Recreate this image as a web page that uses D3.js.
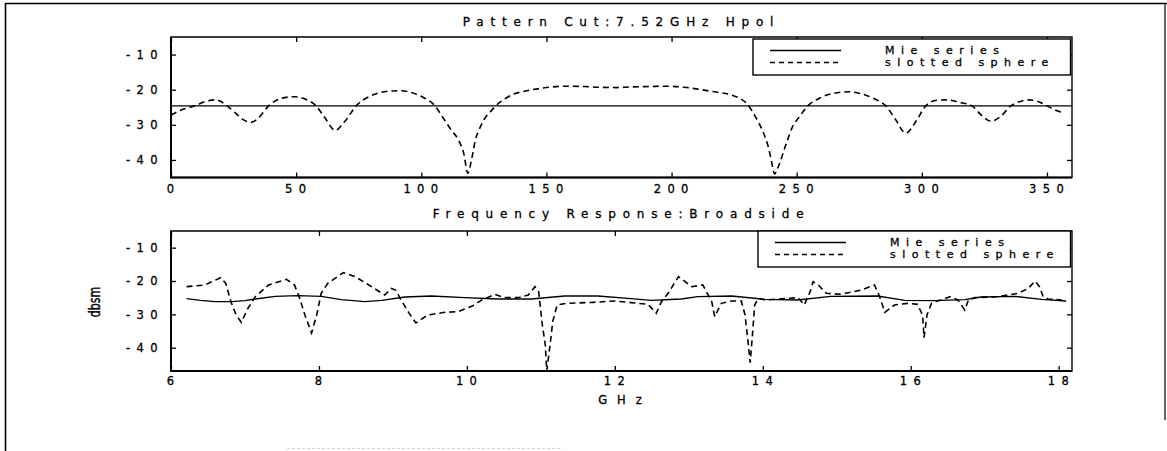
<!DOCTYPE html>
<html>
<head>
<meta charset="utf-8">
<script src="https://cdn.jsdelivr.net/npm/d3@7"></script>
<style>
  html, body { margin: 0; padding: 0; background: #fff; }
  svg { display: block; }
  text { font-family: "DejaVu Sans", "Liberation Sans", sans-serif; fill: #000; stroke: #000; stroke-width: 0.3px; }
</style>
</head>
<body>
<svg id="chart" width="1167" height="451"></svg>
<script>
// ---- Pattern cut at 7.52 GHz, horizontal polarisation (angle in degrees, RCS in dBsm)
const patternAngle = [0, 4, 9.6, 14, 18, 22.4, 26, 29, 32, 35, 39, 44, 49, 54, 58, 61.5, 65.6, 69.5, 74, 80,
  86, 91, 96, 101, 105.5, 108.5, 112, 115, 117, 118.6, 120.2, 121.6, 123.6, 125.6, 127.6, 129.6, 133.6, 137.6,
  141.6, 148, 158, 165, 171, 178, 184, 191, 198, 205, 211, 217, 224.3, 230.9, 233.6, 236.3, 238.3, 239.6, 241.2,
  242.3, 243.6, 244.9, 246.3, 248.3, 251, 254.3, 258.9, 264.3, 270.9, 276, 281, 285.6, 289.5, 293.6, 297.5,
  301.6, 306, 310, 315, 320, 324, 327.6, 331.5, 335.6, 340, 343, 347, 350, 354, 357];
const patternSlotted = [-27.2, -25.8, -24.6, -23.3, -22.9, -24.6, -26.8, -28.6, -29.3, -28.0, -24.6, -22.5, -22.0,
  -22.8, -24.6, -28.0, -31.6, -29.0, -24.6, -21.7, -20.5, -20.3, -20.8, -22.3, -24.6, -27.8, -31.5, -34.5, -38.2,
  -43.8, -39.5, -34.4, -30.6, -27.9, -26.3, -24.7, -22.5, -21.1, -20.4, -19.6, -19.0, -19.1, -19.3, -19.4, -19.2,
  -19.1, -19.0, -19.3, -19.9, -20.6, -21.6, -24.7, -27.8, -31.6, -35.4, -39.2, -44.0, -42.5, -40.1, -37.3, -34.4,
  -30.6, -27.8, -24.7, -22.5, -21.1, -20.6, -21.2, -22.6, -24.6, -28.5, -32.4, -29.2, -24.6, -23.0, -22.9, -23.6,
  -24.6, -27.4, -29.0, -27.6, -24.6, -23.2, -22.9, -23.5, -24.6, -26.0, -26.6];
const mieAngle = [0, 90, 180, 270, 360];
const patternMie = [-24.6, -24.6, -24.6, -24.6, -24.6];

// ---- Broadside frequency response (GHz, dBsm)
const freqMie = [6.21, 6.40, 6.59, 6.82, 7.00, 7.14, 7.41, 7.72, 8.03, 8.30, 8.62, 8.85, 9.16, 9.52, 9.97, 10.42,
  10.87, 11.32, 11.77, 12.22, 12.49, 12.90, 13.12, 13.58, 14.03, 14.47, 14.92, 15.55, 15.92, 16.30, 16.73, 16.95,
  17.41, 17.77, 18.10];
const responseMie = [-25.3, -25.8, -26.2, -26.2, -25.9, -25.4, -24.6, -24.4, -24.6, -25.6, -26.2, -25.8, -24.8,
  -24.5, -25.0, -25.4, -25.4, -24.5, -24.5, -25.3, -25.8, -25.4, -24.7, -24.5, -25.5, -25.7, -24.6, -24.5, -25.8,
  -25.9, -25.6, -24.8, -24.6, -25.5, -26.0];
const freqSlotted = [6.21, 6.46, 6.67, 6.74, 6.81, 6.88, 6.95, 7.04, 7.14, 7.32, 7.56, 7.67, 7.74, 7.81, 7.90,
  7.97, 8.03, 8.12, 8.33, 8.49, 8.71, 8.89, 8.98, 9.04, 9.11, 9.22, 9.31, 9.47, 9.70, 9.88, 10.08, 10.20, 10.38,
  10.51, 10.69, 10.83, 10.92, 10.97, 10.99, 11.02, 11.06, 11.08, 11.13, 11.16, 11.22, 11.34, 11.70, 12.00, 12.22,
  12.45, 12.56, 12.63, 12.72, 12.86, 13.04, 13.19, 13.31, 13.35, 13.44, 13.58, 13.71, 13.76, 13.80, 13.83, 13.86,
  13.89, 13.94, 14.03, 14.48, 14.56, 14.64, 14.68, 14.75, 14.86, 15.06, 15.33, 15.51, 15.58, 15.65, 15.78, 15.96,
  16.09, 16.16, 16.18, 16.22, 16.28, 16.53, 16.64, 16.73, 16.78, 16.87, 17.18, 17.45, 17.59, 17.68, 17.74, 17.79,
  17.86, 18.04];
const responseSlotted = [-21.7, -21.2, -19.0, -20.7, -26.2, -30.2, -32.4, -28.2, -24.7, -21.2, -19.5, -21.2, -25.2,
  -30.2, -35.6, -30.2, -23.7, -20.7, -17.5, -18.7, -21.7, -24.2, -22.2, -22.8, -25.7, -29.7, -32.6, -30.2, -29.4,
  -29.2, -27.4, -25.7, -24.0, -25.0, -25.0, -24.2, -21.7, -23.2, -27.2, -33.2, -39.2, -47.0, -38.2, -32.2, -27.2,
  -26.7, -26.4, -26.0, -26.5, -27.0, -29.7, -26.2, -23.7, -18.7, -21.7, -21.2, -26.2, -30.7, -26.7, -26.0, -26.0,
  -30.2, -38.2, -44.5, -36.2, -27.2, -25.2, -25.7, -25.0, -27.2, -23.2, -20.2, -21.2, -23.7, -24.0, -22.7, -21.2,
  -24.7, -29.4, -27.2, -26.7, -27.0, -30.2, -37.0, -30.2, -26.7, -24.7, -25.7, -28.7, -25.7, -25.0, -24.7, -23.7,
  -22.2, -20.0, -21.7, -24.7, -25.4, -25.7];

// ---- Tick labels
const angleTicks = [0, 50, 100, 150, 200, 250, 300, 350];
const freqTicks = [6, 8, 10, 12, 14, 16, 18];
const dbTicks = [-10, -20, -30, -40];
const seriesNames = ["Mie series", "slotted sphere"];

const svg = d3.select("#chart");
const SPACING = 6.4;   // wide letter spacing of the plotted text
const DASH = "6,4";

// page frame
const frame = svg.append("g").attr("stroke", "#000").attr("fill", "none");
frame.append("line").attr("x1", 5).attr("y1", 3.5).attr("x2", 1167).attr("y2", 3.5).attr("stroke-width", 1.6);
frame.append("line").attr("x1", 5.5).attr("y1", 3).attr("x2", 5.5).attr("y2", 451).attr("stroke-width", 1.6);
frame.append("line").attr("x1", 1165).attr("y1", 3).attr("x2", 1165).attr("y2", 420).attr("stroke-width", 1.2);
frame.append("line").attr("x1", 287).attr("y1", 448.5).attr("x2", 563).attr("y2", 448.5)
  .attr("stroke", "#d4d4d4").attr("stroke-width", 1).attr("stroke-dasharray", "3,2");

function panel(opt) {
  const { x, y, left, right, top, bottom } = opt;
  const g = svg.append("g");

  // tick marks pointing into the plot on all four sides, no domain paths
  const axB = d3.axisBottom(x).tickValues(opt.xTicks).tickSizeInner(-5).tickSizeOuter(0).tickPadding(opt.xPad);
  const axT = d3.axisTop(x).tickValues(opt.xTicks).tickSizeInner(-5).tickSizeOuter(0).tickFormat("");
  const axL = d3.axisLeft(y).tickValues(dbTicks).tickSizeInner(-5).tickSizeOuter(0).tickPadding(7);
  const axR = d3.axisRight(y).tickValues(dbTicks).tickSizeInner(-5).tickSizeOuter(0).tickFormat("");

  const gb = g.append("g").attr("transform", `translate(0,${bottom})`).call(axB);
  const gt = g.append("g").attr("transform", `translate(0,${top})`).call(axT);
  const gl = g.append("g").attr("transform", `translate(${left},0)`).call(axL);
  const gr = g.append("g").attr("transform", `translate(${right},0)`).call(axR);
  [gb, gt, gl, gr].forEach(a => {
    a.select(".domain").remove();
    a.selectAll(".tick line").attr("stroke", "#000").attr("stroke-width", 1.3);
    a.selectAll("text").attr("font-size", 11.5).attr("letter-spacing", SPACING)
      .attr("font-family", '"DejaVu Sans", sans-serif').attr("fill", "#000");
  });
  gb.selectAll("text").attr("dx", SPACING / 2 - 1);
  gl.selectAll("text").text(d => d3.format("d")(d).replace("−", "-"));

  // axes box
  g.append("path")
    .attr("d", `M${left},${top}H${right}V${bottom}H${left}Z`)
    .attr("fill", "none").attr("stroke", "#000").attr("stroke-width", 1.4);
  g.append("path")
    .attr("d", `M${left},${top}V${bottom}H${right}`)
    .attr("fill", "none").attr("stroke", "#000").attr("stroke-width", 2);

  // series
  const line = (xs, ys, curve) => d3.line().curve(curve)
    .x((d, i) => x(xs[i])).y((d, i) => y(ys[i]))(ys);
  g.append("path").attr("d", line(opt.mieX, opt.mieY, d3.curveLinear))
    .attr("fill", "none").attr("stroke", "#000").attr("stroke-width", 1.4);
  g.append("path").attr("d", line(opt.slotX, opt.slotY, opt.curve))
    .attr("fill", "none").attr("stroke", "#000").attr("stroke-width", 1.6)
    .attr("stroke-dasharray", DASH);

  // title
  g.append("text").attr("x", (left + right) / 2).attr("y", opt.titleY)
    .attr("text-anchor", "middle").attr("font-size", 12).attr("letter-spacing", 6.8)
    .text(opt.title);

  // legend
  const lg = g.append("g").attr("transform", `translate(${opt.legend[0]},${opt.legend[1]})`);
  const lw = right - opt.legend[0] - 1.5, lh = 36;
  lg.append("rect").attr("width", lw).attr("height", lh)
    .attr("fill", "#fff").attr("stroke", "#000").attr("stroke-width", 1.4);
  lg.append("line").attr("x1", 17).attr("x2", 88).attr("y1", 11.5).attr("y2", 11.5)
    .attr("stroke", "#000").attr("stroke-width", 1.3);
  lg.append("line").attr("x1", 17).attr("x2", 88).attr("y1", 23.5).attr("y2", 23.5)
    .attr("stroke", "#000").attr("stroke-width", 1.3).attr("stroke-dasharray", "5,4");
  seriesNames.forEach((s, i) => {
    lg.append("text").attr("x", 132).attr("y", 14.5 + i * 12)
      .attr("font-size", 11).attr("letter-spacing", 6.5).text(s);
  });
  return g;
}

// top panel: pattern cut
const xA = d3.scaleLinear().domain([0, 360]).range([171, 1072]);
const yA = d3.scaleLinear().domain([-45, -5]).range([177.5, 37]);
panel({
  x: xA, y: yA, left: 171, right: 1072, top: 37, bottom: 177.5,
  xTicks: angleTicks, xPad: 7,
  mieX: mieAngle, mieY: patternMie, slotX: patternAngle, slotY: patternSlotted,
  curve: d3.curveMonotoneX,
  title: "Pattern Cut:7.52GHz Hpol", titleY: 26,
  legend: [753, 39]
});

// bottom panel: broadside frequency response
const xF = d3.scaleLinear().domain([6, 18.18]).range([171, 1072]);
const yF = d3.scaleLinear().domain([-47, -5]).range([371, 231]);
panel({
  x: xF, y: yF, left: 171, right: 1072, top: 231, bottom: 371,
  xTicks: freqTicks, xPad: 6,
  mieX: freqMie, mieY: responseMie, slotX: freqSlotted, slotY: responseSlotted,
  curve: d3.curveLinear,
  title: "Frequency Response:Broadside", titleY: 217.5,
  legend: [758, 231]
});

// axis names
svg.append("text").attr("x", 625).attr("y", 403.5).attr("text-anchor", "middle")
  .attr("font-size", 11.5).attr("letter-spacing", 10).text("GHz");
svg.append("text").attr("transform", "translate(100,302) rotate(-90) scale(0.92,1.35)")
  .attr("text-anchor", "middle").attr("font-size", 12).text("dbsm");
</script>
</body>
</html>
